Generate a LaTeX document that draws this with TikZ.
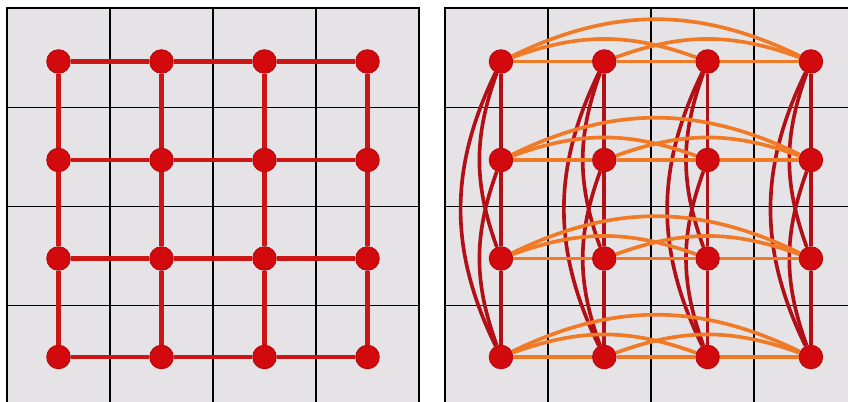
\documentclass[tikz,border=0pt]{standalone}
\definecolor{panelgray}{RGB}{230,227,231}
\definecolor{nodered}{RGB}{210,10,14}
\definecolor{latred}{RGB}{204,22,22}
\definecolor{colred}{RGB}{178,16,22}
\definecolor{roworange}{RGB}{240,122,38}
\tikzset{
  vtx/.style={circle,fill=nodered,draw=nodered!85!black,line width=0.6pt,minimum size=0.59cm,inner sep=0pt},
  latedge/.style={latred,line width=2.9pt},
  coledge/.style={colred,line width=2.6pt},
  rowedge/.style={roworange,line width=2.6pt},
  panel/.style={fill=panelgray,draw=black,line width=1.3pt},
  cell/.style={black,line width=1pt}
}
\begin{document}
\begin{tikzpicture}[x=0.025cm,y=0.025cm]
	\useasboundingbox (0,0) rectangle (848,401);
	\clip (0,0) rectangle (848,401);
	% the two gray panels with their 4x4 cells
	\foreach \px in {7,445}{
		\draw[panel] (\px,-4) rectangle ++(412,397);
		\foreach \k in {1,2,3}{
			\draw[cell] (\px+103*\k,-4) -- ++(0,397);
			\draw[cell] (\px,-4+99.25*\k) -- ++(412,0);
		}
	}
	% left: square lattice
	\foreach \i in {0,...,3}
		\foreach \j in {0,...,3}
			\node[vtx] (g-\i-\j) at (58.5+103*\i,44+98.5*\j) {};
	\foreach \i in {0,...,3}
		\foreach \a/\b in {0/1,1/2,2/3}{
			\draw[latedge] (g-\i-\a) -- (g-\i-\b);
			\draw[latedge] (g-\a-\i) -- (g-\b-\i);
		}
	% right: every pair in a column and in a row joined
	\foreach \i in {0,...,3}
		\foreach \j in {0,...,3}
			\node[vtx] (h-\i-\j) at (501+103.3*\i,44+98.5*\j) {};
	\foreach \i in {0,...,3}
		\foreach \a/\b/\bend in {0/1/0,1/2/0,2/3/0,0/2/20,1/3/20,0/3/26}
			\draw[coledge] (h-\i-\a) to[bend left=\bend] (h-\i-\b);
	\foreach \j in {0,...,3}
		\foreach \a/\b/\bend in {0/1/0,1/2/0,2/3/0,0/2/20,1/3/20,0/3/26}
			\draw[rowedge] (h-\a-\j) to[bend left=\bend] (h-\b-\j);
\end{tikzpicture}
\end{document}
